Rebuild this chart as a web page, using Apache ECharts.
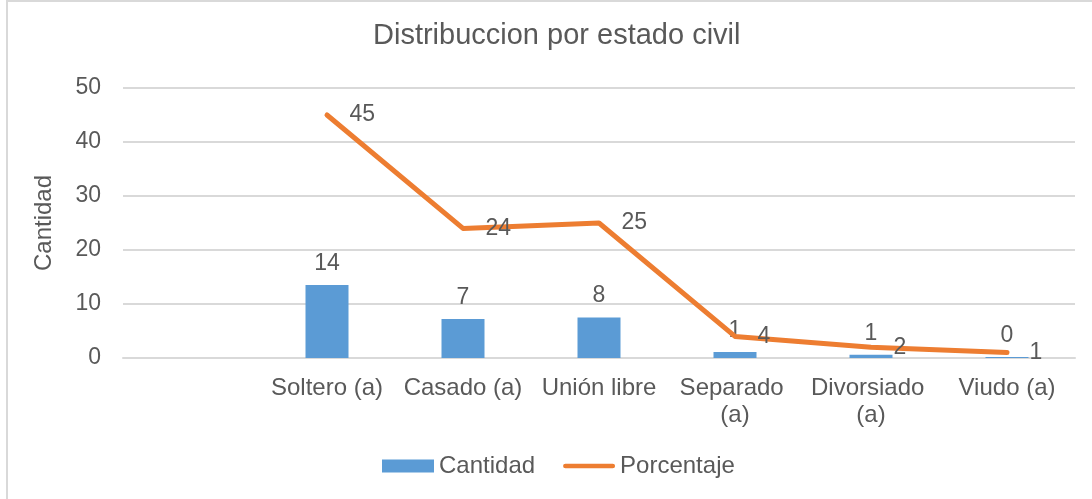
<!DOCTYPE html>
<html>
<head>
<meta charset="utf-8">
<script src="https://cdn.jsdelivr.net/npm/echarts@6/dist/echarts.min.js"></script>
<style>
    html, body { margin: 0; padding: 0; background: #fff; }
    #chart { width: 1092px; height: 499px; }
</style>
</head>
<body>
<div id="chart"></div>
<script>
var categorias = ['', 'Soltero (a)', 'Casado (a)', 'Unión libre', 'Separado (a)', 'Divorsiado (a)', 'Viudo (a)'];
var cantidad = [null, 13.5, 7.2, 7.5, 1.1, 0.6, 0.2];
var porcentaje = [null, 45, 24, 25, 4, 2, 1];
var yTicks = [0, 10, 20, 30, 40, 50];

var gris = '#595959';
var fuente = '"Liberation Sans", Arial, sans-serif';

var myChart = echarts.init(document.getElementById('chart'));

var option = {
    backgroundColor: '#fff',
    textStyle: { fontFamily: fuente, color: gris },
    graphic: [{
        type: 'rect',
        shape: { x: 7, y: 1, width: 1200, height: 600 },
        style: { fill: 'none', stroke: '#d9d9d9', lineWidth: 2 },
        silent: true
    }],
    title: {
        text: 'Distribuccion por estado civil',
        left: 373,
        top: 21,
        padding: 0,
        textStyle: { fontFamily: fuente, fontSize: 29, fontWeight: 'normal', color: gris }
    },
    legend: {
        left: 382,
        top: 454,
        padding: 0,
        itemGap: 28,
        itemWidth: 52,
        itemHeight: 13,
        textStyle: { fontFamily: fuente, fontSize: 24, color: gris, padding: [0, 0, 0, 0] },
        data: [
            { name: 'Cantidad', icon: 'rect' },
            { name: 'Porcentaje', icon: 'path://M2.5,0 L52.5,0 A2.5,2.5 0 0 1 52.5,5 L2.5,5 A2.5,2.5 0 0 1 2.5,0 Z' }
        ]
    },
    grid: { left: 123, right: 17, top: 88, bottom: 141 },
    xAxis: {
        type: 'category',
        data: categorias,
        axisLine: { lineStyle: { color: '#d9d9d9', width: 2 } },
        axisTick: { show: false },
        axisLabel: {
            interval: 0,
            margin: 17,
            fontFamily: fuente,
            fontSize: 24,
            lineHeight: 27,
            color: gris,
            width: 130,
            overflow: 'break'
        }
    },
    yAxis: {
        type: 'value',
        min: yTicks[0],
        max: yTicks[yTicks.length - 1],
        interval: 10,
        name: 'Cantidad',
        nameLocation: 'middle',
        nameGap: 67,
        nameTextStyle: { fontFamily: fuente, fontSize: 24, color: gris },
        axisLine: { show: false },
        axisTick: { show: false },
        axisLabel: { margin: 22, fontFamily: fuente, fontSize: 23, color: gris },
        splitLine: { lineStyle: { color: '#d9d9d9', width: 2 } }
    },
    series: [
        {
            name: 'Cantidad',
            type: 'bar',
            data: cantidad,
            barWidth: 43,
            itemStyle: { color: '#5b9bd5' },
            label: {
                show: true,
                position: 'top',
                distance: 10,
                fontFamily: fuente,
                fontSize: 23,
                color: gris,
                formatter: function (p) { return Math.round(p.value); }
            }
        },
        {
            name: 'Porcentaje',
            type: 'line',
            data: porcentaje,
            symbol: 'circle',
            symbolSize: 1,
            showSymbol: true,
            lineStyle: { color: '#ed7d31', width: 5, cap: 'round', join: 'round' },
            itemStyle: { color: '#ed7d31' },
            label: {
                show: true,
                position: 'right',
                distance: 22,
                fontFamily: fuente,
                fontSize: 23,
                color: gris
            }
        }
    ]
};

if (option && typeof option === "object") {
    myChart.setOption(option, true);
}
</script>
</body>
</html>
